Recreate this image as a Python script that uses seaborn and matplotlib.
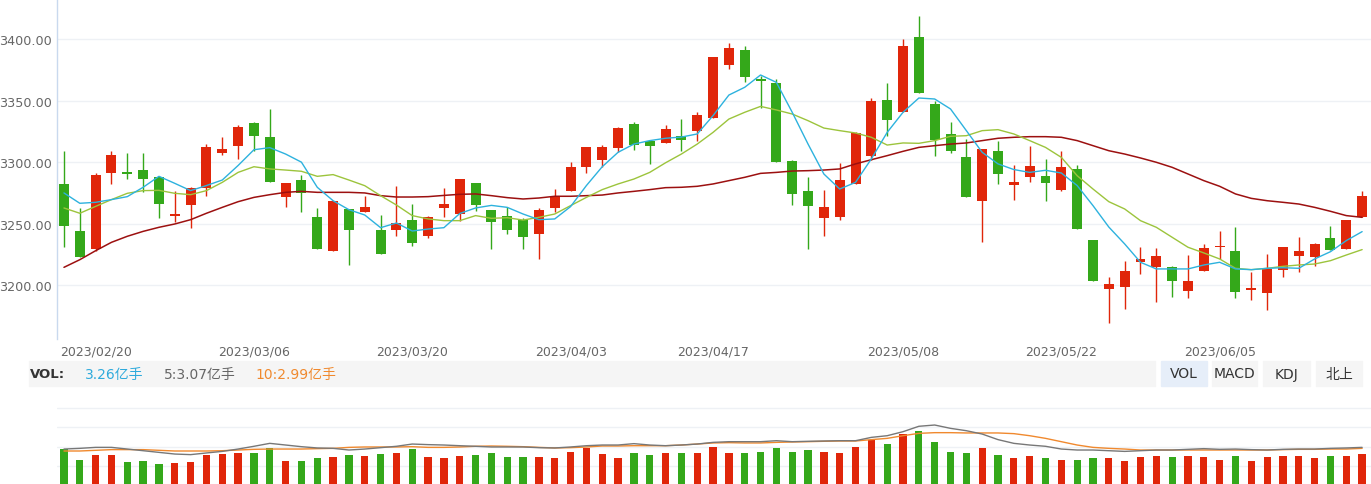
import numpy as np
import pandas as pd
import matplotlib
matplotlib.use("Agg")
import matplotlib.pyplot as plt
from matplotlib.patches import Rectangle
import seaborn as sns

# ---------------- data ----------------
dates = (["02/16", "02/17", "02/20", "02/21", "02/22", "02/23", "02/24", "02/27", "02/28"]
         + ["03/%02d" % d for d in [1, 2, 3, 6, 7, 8, 9, 10, 13, 14, 15, 16, 17, 20, 21, 22, 23, 24, 27, 28, 29, 30, 31]]
         + ["04/%02d" % d for d in [3, 4, 6, 7, 10, 11, 12, 13, 14, 17, 18, 19, 20, 21, 24, 25, 26, 27, 28]]
         + ["05/%02d" % d for d in [4, 5, 8, 9, 10, 11, 12, 15, 16, 17, 18, 19, 22, 23, 24, 25, 26, 29, 30, 31]]
         + ["06/%02d" % d for d in [1, 2, 5, 6, 7, 8, 9, 12, 13, 14, 15, 16]])

open_ = [3282.0, 3244.4, 3229.5, 3291.2, 3292.0, 3293.6, 3288.2, 3256.0, 3265.5, 3279.0,
         3307.4, 3313.4, 3331.8, 3320.4, 3271.4, 3285.5, 3255.2, 3227.9, 3261.6, 3259.8,
         3244.6, 3244.7, 3253.3, 3240.3, 3262.8, 3257.9, 3283.1, 3261.2, 3256.0, 3253.0,
         3242.0, 3262.8, 3276.9, 3296.3, 3301.8, 3311.5, 3331.3, 3316.9, 3315.6, 3321.2,
         3325.0, 3335.9, 3378.9, 3391.1, 3367.3, 3364.3, 3301.0, 3276.3, 3254.4, 3255.2,
         3282.3, 3305.3, 3350.7, 3340.5, 3401.9, 3347.0, 3322.9, 3304.2, 3268.7, 3309.3,
         3281.5, 3287.7, 3289.0, 3277.4, 3294.5, 3237.1, 3197.0, 3198.4, 3218.7, 3214.6,
         3214.6, 3195.7, 3211.9, 3231.1, 3228.1, 3196.5, 3193.8, 3212.7, 3224.1, 3223.3,
         3238.2, 3229.7, 3255.2]
high = [3308.8, 3262.5, 3291.0, 3309.3, 3307.4, 3307.4, 3289.0, 3276.9, 3280.0, 3315.0,
        3320.7, 3330.2, 3332.9, 3343.2, 3282.8, 3289.6, 3262.5, 3268.5, 3262.0, 3272.8,
        3257.1, 3280.4, 3266.3, 3256.0, 3279.0, 3286.3, 3283.1, 3261.2, 3263.3, 3254.3,
        3262.8, 3278.2, 3299.9, 3312.3, 3314.2, 3328.5, 3332.9, 3316.9, 3330.2, 3335.0,
        3340.5, 3385.7, 3396.8, 3394.6, 3370.0, 3367.5, 3302.0, 3288.0, 3277.4, 3299.1,
        3324.8, 3352.4, 3364.3, 3400.0, 3419.0, 3350.0, 3332.9, 3318.8, 3310.4, 3317.5,
        3298.0, 3313.4, 3302.6, 3308.8, 3298.0, 3237.1, 3206.5, 3220.0, 3230.9, 3230.0,
        3216.0, 3224.6, 3233.6, 3244.4, 3247.1, 3210.6, 3225.4, 3230.9, 3238.9, 3234.4,
        3248.1, 3252.7, 3276.3]
low = [3231.4, 3223.0, 3227.6, 3282.0, 3286.3, 3275.5, 3254.4, 3251.7, 3246.3, 3272.3,
       3306.0, 3302.6, 3309.3, 3283.9, 3263.3, 3259.8, 3229.8, 3227.9, 3216.8, 3259.3,
       3225.2, 3240.3, 3232.2, 3238.7, 3255.2, 3252.5, 3260.6, 3229.5, 3241.7, 3229.5,
       3221.4, 3259.8, 3276.9, 3290.9, 3296.3, 3308.0, 3310.1, 3298.2, 3315.6, 3309.1,
       3316.9, 3335.9, 3375.6, 3364.8, 3344.0, 3299.9, 3265.2, 3229.5, 3240.3, 3253.3,
       3282.3, 3302.0, 3321.5, 3340.5, 3356.4, 3305.3, 3307.4, 3271.4, 3235.5, 3282.3,
       3269.6, 3284.2, 3268.2, 3276.9, 3245.9, 3203.8, 3169.4, 3180.8, 3209.2, 3186.7,
       3190.3, 3189.4, 3211.9, 3221.4, 3189.4, 3188.4, 3180.2, 3206.5, 3210.6, 3215.4,
       3229.0, 3229.7, 3255.2]
close = [3248.4, 3223.3, 3289.9, 3306.1, 3290.0, 3286.3, 3266.0, 3258.0, 3279.0, 3312.3,
         3310.4, 3328.5, 3321.5, 3283.9, 3282.8, 3274.7, 3229.8, 3268.5, 3244.7, 3263.3,
         3225.7, 3250.3, 3234.1, 3255.2, 3265.7, 3286.3, 3265.5, 3251.1, 3244.9, 3239.5,
         3261.2, 3272.8, 3296.3, 3312.3, 3312.3, 3327.7, 3314.2, 3312.9, 3326.9, 3318.3,
         3338.3, 3385.7, 3392.7, 3368.9, 3366.2, 3299.9, 3274.2, 3264.1, 3263.9, 3285.5,
         3323.4, 3349.9, 3334.2, 3394.6, 3356.4, 3318.0, 3309.3, 3271.4, 3310.4, 3290.4,
         3283.9, 3297.2, 3283.4, 3296.1, 3245.9, 3203.8, 3201.1, 3211.9, 3221.1, 3223.5,
         3203.8, 3203.8, 3230.0, 3231.9, 3194.9, 3197.6, 3213.3, 3230.9, 3228.1, 3233.6,
         3229.0, 3252.7, 3272.8]

ma5 = [3275.0, 3266.6, 3267.4, 3269.6, 3272.0, 3279.6, 3288.5, 3282.8, 3276.9, 3281.0,
       3285.5, 3297.3, 3310.1, 3311.8, 3306.6, 3300.0, 3279.6, 3268.7, 3261.4, 3257.1,
       3246.8, 3250.6, 3244.1, 3245.7, 3246.8, 3258.3, 3262.8, 3264.9, 3263.3, 3257.9,
       3253.3, 3253.9, 3263.9, 3281.0, 3296.3, 3308.0, 3314.7, 3317.5, 3319.4, 3320.4,
       3322.9, 3337.8, 3354.5, 3360.8, 3370.8, 3364.8, 3340.5, 3314.7, 3290.4, 3278.2,
       3283.6, 3302.7, 3324.2, 3340.5, 3352.1, 3351.3, 3343.2, 3325.6, 3308.0, 3298.6,
       3294.0, 3291.7, 3293.4, 3291.2, 3281.0, 3264.7, 3247.3, 3233.6, 3218.7, 3213.3,
       3213.3, 3213.3, 3216.5, 3218.7, 3213.3, 3212.7, 3213.8, 3214.3, 3213.8, 3221.4,
       3227.3, 3236.3, 3243.6]
ma10 = [3262.8, 3258.5, 3264.1, 3269.6, 3274.7, 3276.9, 3277.1, 3274.7, 3273.6, 3276.9,
        3283.6, 3291.7, 3296.3, 3294.5, 3293.6, 3292.6, 3288.5, 3289.9, 3285.5, 3280.9,
        3272.8, 3265.2, 3256.6, 3253.9, 3252.5, 3252.5, 3256.6, 3254.4, 3254.9, 3253.0,
        3255.2, 3257.9, 3264.7, 3271.4, 3277.7, 3282.3, 3286.3, 3291.7, 3299.5, 3306.6,
        3314.7, 3324.2, 3335.0, 3340.5, 3345.3, 3342.4, 3339.1, 3333.7, 3327.7, 3325.6,
        3323.7, 3320.2, 3313.9, 3315.6, 3315.3, 3317.5, 3321.0, 3321.5, 3325.6, 3326.4,
        3322.9, 3317.5, 3312.0, 3303.9, 3289.0, 3278.2, 3267.9, 3262.0, 3252.5, 3247.1,
        3239.0, 3230.9, 3226.3, 3221.4, 3213.8, 3212.7, 3213.8, 3215.4, 3216.5, 3217.3,
        3220.0, 3224.6, 3229.0]
ma30 = [3214.6, 3220.8, 3228.1, 3234.9, 3239.8, 3243.8, 3247.1, 3249.8, 3253.3, 3258.5,
        3263.3, 3267.9, 3271.4, 3273.6, 3275.5, 3276.3, 3275.5, 3275.5, 3275.5, 3275.0,
        3272.8, 3271.7, 3271.7, 3272.0, 3273.0, 3273.9, 3274.2, 3272.8, 3271.2, 3270.1,
        3270.9, 3272.3, 3272.3, 3272.8, 3273.3, 3275.0, 3276.3, 3277.7, 3279.3, 3279.6,
        3280.4, 3282.3, 3285.0, 3287.7, 3290.9, 3291.7, 3292.8, 3293.1, 3293.6, 3294.5,
        3298.6, 3302.0, 3305.3, 3308.8, 3312.0, 3313.4, 3314.7, 3315.6, 3317.5, 3319.4,
        3320.2, 3320.7, 3320.7, 3320.2, 3317.5, 3313.4, 3309.3, 3306.6, 3303.4, 3299.9,
        3295.8, 3290.4, 3285.0, 3280.4, 3274.2, 3270.6, 3268.7, 3267.4, 3266.0, 3263.3,
        3260.1, 3256.6, 3255.2]

# volume in 亿手
vol = [3.77, 2.68, 3.16, 3.16, 2.48, 2.58, 2.24, 2.35, 2.48, 3.16,
       3.26, 3.37, 3.37, 3.85, 2.58, 2.58, 2.83, 2.93, 3.16, 3.03,
       3.26, 3.37, 3.77, 2.93, 2.83, 3.03, 3.16, 3.37, 2.93, 2.93,
       2.93, 2.83, 3.50, 3.85, 3.26, 2.83, 3.37, 3.16, 3.37, 3.37,
       3.37, 3.95, 3.37, 3.37, 3.50, 3.85, 3.50, 3.70, 3.50, 3.37,
       3.95, 4.72, 4.28, 5.30, 5.64, 4.52, 3.50, 3.37, 3.85, 3.16,
       2.83, 3.03, 2.83, 2.68, 2.68, 2.83, 2.83, 2.58, 2.93, 3.03,
       2.93, 3.03, 2.93, 2.68, 3.03, 2.58, 2.93, 3.03, 3.03, 2.83,
       3.03, 3.03, 3.26]
vol_ma5 = [3.77, 3.84, 3.94, 3.94, 3.77, 3.60, 3.43, 3.26, 3.20, 3.37,
           3.53, 3.77, 4.05, 4.35, 4.18, 4.01, 3.88, 3.84, 3.67, 3.77,
           3.91, 4.05, 4.28, 4.22, 4.18, 4.11, 4.05, 3.98, 3.98, 3.98,
           3.91, 3.88, 3.98, 4.11, 4.18, 4.18, 4.32, 4.18, 4.11, 4.18,
           4.28, 4.45, 4.52, 4.52, 4.52, 4.62, 4.52, 4.56, 4.59, 4.62,
           4.62, 4.96, 5.13, 5.54, 6.09, 6.22, 5.88, 5.64, 5.30, 4.73,
           4.35, 4.18, 4.05, 3.77, 3.67, 3.67, 3.60, 3.53, 3.60, 3.67,
           3.67, 3.74, 3.81, 3.74, 3.77, 3.71, 3.67, 3.74, 3.77, 3.77,
           3.84, 3.88, 3.94]
vol_ma10 = [3.57, 3.57, 3.64, 3.71, 3.71, 3.71, 3.64, 3.57, 3.57, 3.57,
            3.60, 3.67, 3.74, 3.77, 3.77, 3.77, 3.81, 3.84, 3.94, 3.98,
            3.98, 3.98, 4.01, 3.94, 3.94, 3.98, 4.05, 4.08, 4.05, 4.01,
            3.94, 3.88, 3.91, 3.98, 4.08, 4.08, 4.11, 4.11, 4.11, 4.18,
            4.28, 4.39, 4.42, 4.39, 4.39, 4.45, 4.49, 4.52, 4.56, 4.59,
            4.59, 4.73, 4.86, 5.13, 5.37, 5.44, 5.44, 5.41, 5.41, 5.41,
            5.34, 5.13, 4.86, 4.52, 4.18, 3.94, 3.84, 3.77, 3.67, 3.67,
            3.67, 3.67, 3.67, 3.67, 3.67, 3.67, 3.67, 3.71, 3.74, 3.74,
            3.77, 3.77, 3.84]

tick_labels = ["2023/02/20", "2023/03/06", "2023/03/20", "2023/04/03",
               "2023/04/17", "2023/05/08", "2023/05/22", "2023/06/05"]
price_ticks = [3200, 3250, 3300, 3350, 3400]
header_vol = "3.26亿手"
header_ma5 = "5:3.07亿手"
header_ma10 = "10:2.99亿手"
buttons = ["VOL", "MACD", "KDJ", "北上"]

# ---------------- style ----------------
sns.set_theme(style="white")
plt.rcParams["font.family"] = ["DejaVu Sans", "Noto Sans CJK SC"]

RED = "#e0260a"
GREEN = "#34a81a"
C_MA5 = "#2db2de"
C_MA10 = "#9cc43c"
C_MA30 = "#9c1010"
GRID = "#eef1f5"

W, H = 1371, 485
fig = plt.figure(figsize=(W / 100, H / 100), dpi=100)

def fx(px):
    return px / W

def fy(py):
    return 1 - py / H

n = len(close)
idx = np.arange(n)
up = np.array(close) >= np.array(open_)
colors = np.where(up, RED, GREEN)

# ---------------- main price axes ----------------
ax = fig.add_axes([fx(57), fy(340), fx(W - 57), 340 / H])
ax.set_facecolor("white")
for y in price_ticks:
    ax.axhline(y, color=GRID, lw=1.0, zorder=0)

ax.vlines(idx, low, high, colors=colors, lw=1.0, zorder=2)
bottoms = np.minimum(open_, close)
heights = np.maximum(np.abs(np.array(close) - np.array(open_)), 0.9)
ax.bar(idx, heights, bottom=bottoms, width=0.63, color=colors, linewidth=0, zorder=3)

line_df = pd.DataFrame({"i": idx, "ma5": ma5, "ma10": ma10, "ma30": ma30})
sns.lineplot(data=line_df, x="i", y="ma30", color=C_MA30, lw=1.1, ax=ax, zorder=4)
sns.lineplot(data=line_df, x="i", y="ma10", color=C_MA10, lw=1.0, ax=ax, zorder=4)
sns.lineplot(data=line_df, x="i", y="ma5", color=C_MA5, lw=1.0, ax=ax, zorder=5)

ax.set_xlim(-0.44, 82.56)
ax.set_ylim(3156.4, 3432.5)
ax.set_yticks(price_ticks)
ax.set_yticklabels(["%.2f" % v for v in price_ticks])
tick_pos = [dates.index(t[5:]) for t in tick_labels]
ax.set_xticks(tick_pos)
ax.set_xticklabels(tick_labels)
ax.tick_params(axis="x", length=0, pad=4, labelsize=9, labelcolor="#666666")
ax.tick_params(axis="y", length=0, pad=3.5, labelsize=9.2, labelcolor="#666666")
ax.set_xlabel("")
ax.set_ylabel("")
for s in ["top", "right", "bottom"]:
    ax.spines[s].set_visible(False)
ax.spines["left"].set_color("#c9d9ee")
ax.spines["left"].set_linewidth(1.0)
ax.grid(False)

# ---------------- header bar ----------------
fig.patches.append(Rectangle((fx(29), fy(387)), fx(1155 - 29), 25 / H,
                             transform=fig.transFigure, color="#f5f5f5", zorder=0))
btn_x = [(1161, 1207), (1212, 1257), (1263, 1310), (1316, 1362)]
for k, (lbl, (x0, x1)) in enumerate(zip(buttons, btn_x)):
    bg = "#e6eef9" if k == 0 else "#f5f5f5"
    fig.patches.append(Rectangle((fx(x0), fy(387)), fx(x1 - x0), 25 / H,
                                 transform=fig.transFigure, color=bg, zorder=0))
    fig.text(fx((x0 + x1) / 2), fy(374.5), lbl, ha="center", va="center",
             fontsize=10, color="#333333")
ty = fy(374.5)
fig.text(fx(30), ty, "VOL:", ha="left", va="center", fontsize=9.5,
         fontweight="bold", color="#333333")
fig.text(fx(85), ty, header_vol, ha="left", va="center", fontsize=10, color="#2eaadc")
fig.text(fx(164), ty, header_ma5, ha="left", va="center", fontsize=10, color="#666666")
fig.text(fx(255), ty, header_ma10, ha="left", va="center", fontsize=10, color="#f0892e")

# ---------------- volume axes ----------------
axv = fig.add_axes([fx(57), 0, fx(W - 57), 85 / H])
axv.set_facecolor("white")
for y in [2, 4, 6, 8]:
    axv.axhline(y, color=GRID, lw=1.0, zorder=0)
vdf = pd.DataFrame({"i": idx, "vol": vol, "dir": np.where(up, "up", "down")})
sns.barplot(data=vdf, x="i", y="vol", hue="dir", palette={"up": RED, "down": GREEN},
            dodge=False, native_scale=True, width=0.46, saturation=1, legend=False,
            ax=axv, zorder=2, linewidth=0)
vl = pd.DataFrame({"i": idx, "m5": vol_ma5, "m10": vol_ma10})
sns.lineplot(data=vl, x="i", y="m10", color="#f0892e", lw=1.0, ax=axv, zorder=3)
sns.lineplot(data=vl, x="i", y="m5", color="#777777", lw=1.0, ax=axv, zorder=4)
axv.set_xlim(-0.44, 82.56)
axv.set_ylim(0.204, 8.874)
axv.set_xticks([])
axv.set_yticks([])
axv.set_xlabel("")
axv.set_ylabel("")
for s in axv.spines.values():
    s.set_visible(False)
axv.grid(False)

fig.savefig("out.png", dpi=100)
